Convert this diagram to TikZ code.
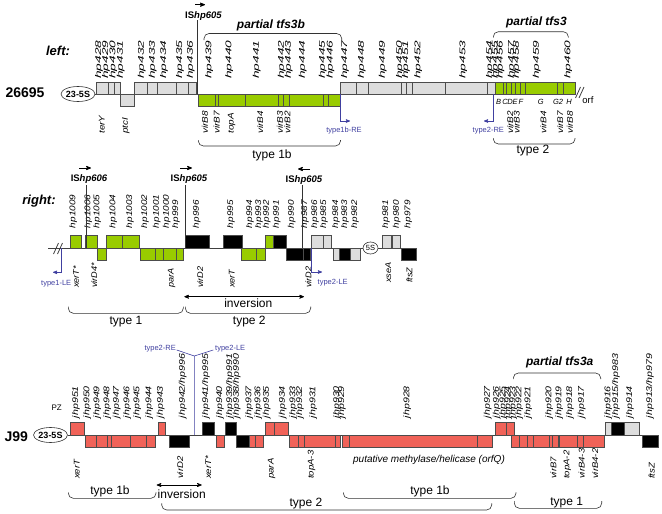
\documentclass[tikz,border=0pt]{standalone}
\usepackage{fontspec}
\setmainfont{Liberation Sans}
\usetikzlibrary{arrows,shapes.geometric}

\definecolor{orfgreen}{RGB}{153,204,0}
\definecolor{orfgray}{RGB}{221,221,221}
\definecolor{orfred}{RGB}{240,98,88}
\definecolor{lebl}{RGB}{64,64,160}

\begin{document}
\begin{tikzpicture}[x=1pt,y=-1pt,>=stealth']
  \tikzset{orf/.style={draw=black!70,line width=0.5pt},
    gy/.style={orf,fill=orfgray}, gn/.style={orf,fill=orfgreen},
    bk/.style={orf,fill=black}, rd/.style={orf,fill=orfred},
    lab/.style={rotate=90,anchor=west,inner sep=0pt,font=\fontsize{8.3}{8}\selectfont\itshape},
    bb/.style={draw=black!75,line width=0.8pt},
    brk/.style={draw=black!80,line width=0.6pt,rounded corners=5pt},
    le/.style={draw=lebl,line width=0.6pt},
    letext/.style={text=lebl,inner sep=0pt,font=\fontsize{7.5}{8}\selectfont},
    istext/.style={inner sep=0pt,font=\fontsize{9.5}{10}\selectfont\bfseries},
    big/.style={inner sep=0pt,font=\fontsize{14}{14}\selectfont\bfseries},
    side/.style={inner sep=0pt,font=\fontsize{13}{13}\selectfont\bfseries\itshape},
    tfs/.style={inner sep=0pt,font=\fontsize{12}{12}\selectfont\bfseries\itshape},
    typ/.style={inner sep=0pt,font=\fontsize{12}{12}\selectfont},
    small/.style={inner sep=0pt,font=\fontsize{7.5}{8}\selectfont\itshape},
    rrna/.style={ellipse,draw=black!80,line width=0.6pt,inner sep=0pt,minimum width=31pt,minimum height=15pt,font=\fontsize{9}{10}\selectfont\bfseries}}
  \useasboundingbox (0,0) rectangle (662,514);

  % ---------------- 26695, left ----------------
  \node[big] (n26695) at (25,93) {26695};
  \node[side] (left) at (58,51) {left:};
  \node[rrna] (r1) at (78,94) {23-5S};
  \coordinate (end1) at (575,94);
  \draw[bb] (r1) -- (end1);
  \foreach \a/\b in {96.7/108.3,108.3/114.3,114.3/120,134.3/147.7,147.7/157.7,157.7/176.7,176.7/188.3,188.3/196.7,
      340/356.7,356.7/368.3,368.3/401.7,401.7/406.7,406.7/412.7,412.7/445.7,445.7/487.7,487.7/495}
    \draw[gy] (\a,82) rectangle (\b,94);
  \draw[gy] (120,94) rectangle (134.3,106);
  \foreach \a/\b in {198.5/215,215/218.3,218.3/245,245/278.3,278.3/283.3,283.3/289.3,289.3/323.3,323.3/328.3,328.3/340}
    \draw[gn] (\a,94) rectangle (\b,106);
  \foreach \a/\b in {495/503.3,503.3/506.7,506.7/511.7,511.7/515.7,515.7/520,520/525.7,525.7/557.7,557.7/563.3,563.3/575}
    \draw[gn] (\a,82) rectangle (\b,94);
  \draw[bb] (575.5,98) -- (580.5,87) (579,98) -- (584,87);
  \node[inner sep=0pt,font=\fontsize{9.5}{10}\selectfont] (orf) at (588,100) {orf};

  \foreach \x/\t [count=\i] in {99/hp428,106/hp429,113.3/hp430,120.7/hp431,141.7/hp432,152.7/hp433,164/hp434,180/hp435,
      190.7/hp436,209.3/hp439,229.3/hp440,256.7/hp441,281.7/hp442,288.7/hp443,302.7/hp444,322.7/hp445,330.5/hp446,
      345/hp447,361.7/hp448,382.7/hp449,400/hp450,406/hp451,418.3/hp452,463.3/hp453,490/hp454,495.5/hp455,
      500.5/hp456,511.7/hp457,516.7/hp458,536.7/hp459,568.3/hp460}
    \node[lab,xscale=1.65] (a\i) at (\x,79) {\t};
  \foreach \x/\t [count=\i] in {101.7/terY,126/ptcI,205/virB8,216.7/virB7,231.7/topA,260/virB4,280/virB3,287.3/virB2,
      510/virB2,516.7/virB3,543.3/virB4,560/virB7,570/virB8}
    \node[lab,xscale=1.2] (b\i) at (\x,134) {\t};
  \foreach \x/\t [count=\i] in {498.5/B,505/C,510/D,515/E,521/F,540.7/G,558/G2,569/H}
    \node[small] (c\i) at (\x,101.5) {\t};

  % IS element
  \node[istext] (is1) at (203.5,15.7) {IS\textit{hp605}};
  \coordinate (is1top) at (197.7,20);
  \coordinate (is1bot) at (197.7,94);
  \draw[black!80,line width=0.6pt] (is1top) -- (is1bot);
  \coordinate (is1a) at (195,4.7);
  \coordinate (is1b) at (205,4.7);
  \draw[->,line width=0.8pt] (is1a) -- (is1b);

  % ends
  \coordinate (re1a) at (340,94);
  \coordinate (re1b) at (340,121);
  \coordinate (re1c) at (350,121);
  \draw[le,->] (re1a) -- (re1b) -- (re1c);
  \node[letext] (re1) at (344,131) {type1b-RE};
  \coordinate (re2a) at (493.3,94);
  \coordinate (re2b) at (493.3,121);
  \coordinate (re2c) at (484,121);
  \draw[le,->] (re2a) -- (re2b) -- (re2c);
  \node[letext] (re2) at (488.3,131) {type2-RE};

  % brackets
  \draw[brk] (204,40) -- (204,33.5) -- (341.7,33.5) -- (341.7,40);
  \node[tfs] (tfs3b) at (271,25) {partial tfs3b};
  \draw[brk] (493.3,37.5) -- (493.3,31.7) -- (568.3,31.7) -- (568.3,37.5);
  \node[tfs] (tfs3) at (536.5,22.7) {partial tfs3};
  \draw[brk] (198.3,140) -- (198.3,146) -- (340.5,146) -- (340.5,140);
  \node[typ] (ty1b) at (272,155) {type 1b};
  \draw[brk] (493.3,138) -- (493.3,144) -- (575,144) -- (575,138);
  \node[typ] (ty2) at (533,151) {type 2};

  % ---------------- 26695, right ----------------
  \node[side] (right) at (39,201) {right:};
  \coordinate (st2) at (48.3,248);
  \coordinate (end2) at (416.7,248);
  \draw[bb] (st2) -- (end2);
  \draw[bb] (53.5,254) -- (58.5,243) (57.5,254) -- (62.5,243);
  \foreach \a/\b in {70/81.7,85/97.7,106.7/122,122/139.3,265.7/273.3}
    \draw[gn] (\a,235.5) rectangle (\b,248);
  \foreach \a/\b in {97.7/106.7,140/155,155/163.3,163.3/176.7,176.7/183.3,241.7/256.7,256.7/265.7}
    \draw[gn] (\a,248) rectangle (\b,260.5);
  \foreach \a/\b in {185.7/209,223.3/242.3,273.3/286}
    \draw[bk] (\a,235.5) rectangle (\b,248);
  \foreach \a/\b in {286.7/303.3,303.3/310,339.3/350,401/416.7}
    \draw[bk] (\a,248) rectangle (\b,260.5);
  \foreach \a/\b in {311.7/323.3,323.3/331.7,382.3/391,392/400}
    \draw[gy] (\a,235.5) rectangle (\b,248);
  \foreach \a/\b in {333.3/339.3,350/360.7}
    \draw[gy] (\a,248) rectangle (\b,260.5);
  \node[rrna,minimum width=15pt,minimum height=12pt,font=\fontsize{7.5}{8}\selectfont,fill=white] (s5) at (370.5,248) {5S};

  \foreach \x/\t [count=\i] in {73.3/hp1009,88.3/hp1006,97.3/hp1005,113.3/hp1004,130/hp1003,145/hp1002,156.7/hp1001,
      166.7/hp1000,176/hp999,196.7/hp996,231/hp995,250/hp994,259/hp993,266.7/hp992,276.7/hp991,291.7/hp990,
      305/hp987,315/hp986,324/hp985,336/hp984,345/hp983,355/hp982,386/hp981,396.7/hp980,408.3/hp979}
    \node[lab,xscale=1.2] (d\i) at (\x,228.3) {\t};
  \foreach \x/\t [count=\i] in {76/xerT*,94/virD4*,171.7/parA,200/virD2,231.7/xerT,308.3/virD2}
    \node[lab,xscale=1.1] (e\i) at (\x,288) {\t};
  \foreach \x/\t [count=\i] in {388.3/xseA,409.3/ftsZ}
    \node[lab,xscale=1.1] (f\i) at (\x,283) {\t};

  % IS elements
  \node[istext] (is2) at (89,179) {IS\textit{hp606}};
  \node[istext] (is3) at (189,179) {IS\textit{hp605}};
  \node[istext] (is4) at (304,180) {IS\textit{hp605}};
  \foreach \x [count=\i] in {86,185.7,302.3} {
    \coordinate (ist\i) at (\x,185);
    \coordinate (isb\i) at (\x,248);
    \draw[black!80,line width=0.6pt] (ist\i) -- (isb\i);
  }
  \coordinate (is2a) at (79,168);
  \coordinate (is2b) at (91,168);
  \coordinate (is3a) at (180,168);
  \coordinate (is3b) at (192,168);
  \coordinate (is4a) at (310,169);
  \coordinate (is4b) at (298,169);
  \draw[->,line width=0.8pt] (is2a) -- (is2b);
  \draw[->,line width=0.8pt] (is3a) -- (is3b);
  \draw[->,line width=0.8pt] (is4a) -- (is4b);

  % ends
  \coordinate (le1a) at (61,248);
  \coordinate (le1b) at (61,272.3);
  \coordinate (le1c) at (53,272.3);
  \draw[le,->] (le1a) -- (le1b) -- (le1c);
  \node[letext] (le1) at (56.2,283.3) {type1-LE};
  \coordinate (le2a) at (311,248);
  \coordinate (le2b) at (311,272);
  \coordinate (le2c) at (322,272);
  \draw[le,->] (le2a) -- (le2b) -- (le2c);
  \node[letext] (le2) at (332.7,282.7) {type2-LE};

  % inversion and brackets
  \coordinate (inv1a) at (184.3,296.7);
  \coordinate (inv1b) at (304,296.7);
  \draw[<->,line width=0.7pt] (inv1a) -- (inv1b);
  \node[typ] (inv1) at (248.3,303.5) {inversion};
  \draw[brk] (68.3,306.7) -- (68.3,313.3) -- (183.3,313.3) -- (183.3,306.7);
  \node[typ] (ty1) at (126,321.7) {type 1};
  \draw[brk] (185.3,306.7) -- (185.3,313.3) -- (310.7,313.3) -- (310.7,306.7);
  \node[typ] (ty2r) at (249.3,321.7) {type 2};

  % ---------------- J99 ----------------
  \node[big] (j99) at (16.3,436.7) {J99};
  \node[inner sep=0pt,font=\fontsize{8}{8}\selectfont] (pz) at (56.7,407.7) {PZ};
  \node[rrna] (r3) at (50.5,435) {23-5S};
  \coordinate (end3) at (658.3,435);
  \draw[bb] (r3) -- (end3);
  \foreach \a/\b in {70.7/84.3,158.7/165.3,265/274,274/288.3,495/506,506/514}
    \draw[rd] (\a,422.7) rectangle (\b,435);
  \foreach \a/\b in {85/96,96/107.3,107.3/111.7,111.7/130.7,130.7/146.7,146.7/155,216.7/224,249.3/255,255/263.3,
      289.3/298.3,298.3/304,304/335,335/340.7,342.7/349.3,349.3/477.3,477.3/492.7,511.7/519.3,519.3/527.3,
      527.3/533.3,533.3/549.3,549.3/552.7,552.7/558.3,559.3/577.3,577.3/583.3,583.3/604}
    \draw[rd] (\a,435) rectangle (\b,447.3);
  \foreach \a/\b in {202.7/214,225/236,611.7/624}
    \draw[bk] (\a,422.7) rectangle (\b,435);
  \foreach \a/\b in {169.3/189.3,236/249.3,642.7/658.3}
    \draw[bk] (\a,435) rectangle (\b,447.3);
  \foreach \a/\b in {605.7/611.7,624/639.3}
    \draw[gy] (\a,422.7) rectangle (\b,435);

  \foreach \x/\t [count=\i] in {76/jhp951,87.3/jhp950,97.3/jhp949,107.3/jhp948,116.7/jhp947,127.3/jhp946,137.3/jhp945,
      149.3/jhp944,160.7/jhp943,182.7/{jhp942/hp996},206/{jhp941/hp995},220/jhp940,230/{jhp939/hp991},
      236.7/{jhp938/hp990},249.3/jhp937,258.3/jhp936,266.7/jhp935,282.7/jhp934,293.3/jhp933,300/jhp932,
      313.3/jhp931,337/jhp930,342/jhp929,407.3/jhp928,487.7/jhp927,496.7/jhp926,503.3/jhp925,508.3/jhp924,
      513.3/jhp923,519.3/jhp922,528.3/jhp921,549.3/jhp920,559.3/jhp919,570/jhp918,581.7/jhp917,608.3/jhp916,
      616/{jhp915/hp983},630/jhp914,650/{jhp913/hp979}}
    \node[lab,xscale=1.28] (g\i) at (\x,418.3) {\t};
  \foreach \x/\t [count=\i] in {76.7/xerT,180/virD2,208.3/xerT*,271.7/parA,311.7/topA-3,553.3/virB7,567.3/topA-2,
      581.7/virB4-3,595/virB4-2,651.7/ftsZ}
    \node[lab,xscale=1.15] (h\i) at (\x,479) {\t};
  \node[inner sep=0pt,font=\fontsize{10}{10}\selectfont\itshape] (orfq) at (429,460) {putative methylase/helicase (orfQ)};

  % ends
  \coordinate (yj) at (194.3,356);
  \coordinate (yb) at (194.3,435);
  \coordinate (yl) at (176.7,350);
  \coordinate (yr) at (213.3,350);
  \draw[le] (yl) -- (yj) -- (yr) (yj) -- (yb);
  \node[letext,anchor=east] (re3) at (176,348.3) {type2-RE};
  \node[letext,anchor=west] (le3) at (215,348.3) {type2-LE};

  % brackets
  \draw[brk] (513.3,379) -- (513.3,373) -- (600.7,373) -- (600.7,379);
  \node[tfs] (tfs3a) at (559.7,362.7) {partial tfs3a};
  \coordinate (inv2a) at (156.7,485);
  \coordinate (inv2b) at (201.7,485);
  \draw[<->,line width=0.7pt] (inv2a) -- (inv2b);
  \node[typ] (inv2) at (181.7,494.3) {inversion};
  \draw[brk] (68.3,492.3) -- (68.3,498.3) -- (156,498.3) -- (156,492.3);
  \node[typ] (ty1ba) at (110,491) {type 1b};
  \draw[brk] (161.7,503.3) -- (161.7,510) -- (491.7,510) -- (491.7,503.3);
  \node[typ] (ty2j) at (306,503.3) {type 2};
  \draw[brk] (343.3,492.3) -- (343.3,498.3) -- (516,498.3) -- (516,492.3);
  \node[typ] (ty1bb) at (430,491) {type 1b};
  \draw[brk] (514.3,501) -- (514.3,508.3) -- (601.7,508.3) -- (601.7,501);
  \node[typ] (ty1j) at (566.7,502.7) {type 1};
\end{tikzpicture}
\end{document}
